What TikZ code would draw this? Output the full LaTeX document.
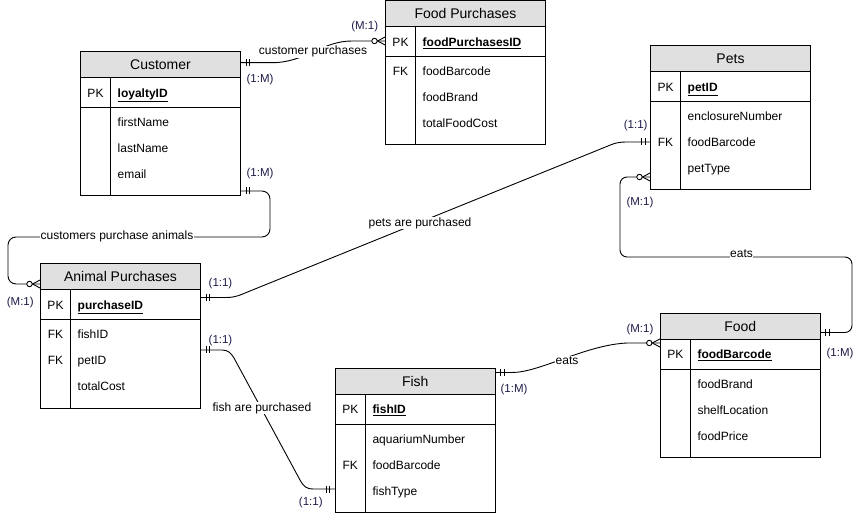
\documentclass[tikz,border=0pt]{standalone}
\usepackage{fontspec}
\setmainfont{Liberation Sans}
\usetikzlibrary{calc}
\definecolor{hdr}{RGB}{224,224,224}
\definecolor{cardc}{RGB}{28,28,72}
\tikzset{
 tline/.style={line width=1pt, draw=black},
 conn/.style={line width=0.9pt, draw=black},
 ttl/.style={font=\fontsize{14}{16}\selectfont, inner sep=0, text height=10pt, text depth=0pt},
 attr/.style={font=\fontsize{12}{14}\selectfont, anchor=west, inner sep=0, text height=8.6pt, text depth=0pt},
 keyt/.style={font=\fontsize{12}{14}\selectfont, inner sep=0, text height=8.6pt, text depth=0pt},
 lbl/.style={font=\fontsize{12}{14}\selectfont, fill=white, inner sep=0.6pt},
 card/.style={font=\fontsize{11.5}{13}\selectfont, text=cardc, inner sep=0},
}
\newcommand\ertable[8]{%
\begin{scope}[shift={(#2,#3)}]
 \node[draw=none, inner sep=0, outer sep=0, minimum width=160pt, minimum height=144pt, anchor=north west] (#1-box) at (0,0) {};
 \fill[hdr] (0,0) rectangle (160,26);
 \draw[tline] (0,0) rectangle (160,144) (0,26) -- (160,26) (0,56) -- (160,56) (30,26) -- (30,144);
 \node[ttl] (#1) at (80,13) {#4};
 \node[keyt] (#1-pkl) at (15,41) {PK};
 \node[attr,font=\fontsize{12}{14}\selectfont\bfseries] (#1-pk) at (37,41) {\underline{#5}};
 \node[attr] (#1-a1) at (37,70.5) {#6};
 \node[attr] (#1-a2) at (37,96.5) {#7};
 \node[attr] (#1-a3) at (37,122.5) {#8};
\end{scope}}
\newcommand\fkat[3]{\node[keyt] (#1) at ($(#2.north west)+(15,#3)$) {FK};}
\newcommand\mandat[2]{\begin{scope}[shift={(#1)},xscale=#2]\draw[conn] (5.5,-3.5)--(5.5,3.5) (9,-3.5)--(9,3.5);\end{scope}}
\newcommand\zmany[2]{\begin{scope}[shift={(#1)},xscale=#2]\draw[conn] (0,-4.2)--(8,0)--(0,4.2);\draw[conn,fill=white] (11,0) circle[radius=2.7];\end{scope}}
\begin{document}
\begin{tikzpicture}[x=1pt,y=-1pt]
\useasboundingbox (0,0) rectangle (863,513);
% tables
\ertable{cust}{80.5}{52}{Customer}{loyaltyID}{firstName}{lastName}{email}
\ertable{fp}{385.5}{1}{Food Purchases}{foodPurchasesID}{foodBarcode}{foodBrand}{totalFoodCost}
\ertable{pets}{650.5}{46}{Pets}{petID}{enclosureNumber}{foodBarcode}{petType}
\ertable{ap}{40.5}{264}{Animal Purchases}{purchaseID}{fishID}{petID}{totalCost}
\ertable{fish}{335.3}{368.3}{Fish}{fishID}{aquariumNumber}{foodBarcode}{fishType}
\ertable{food}{660.3}{313.3}{Food}{foodBarcode}{foodBrand}{shelfLocation}{foodPrice}
\fkat{fp-fk}{fp-box}{70.5}
\fkat{pets-fk}{pets-box}{96.5}
\fkat{ap-fk1}{ap-box}{70.5}
\fkat{ap-fk2}{ap-box}{96.5}
\fkat{fish-fk}{fish-box}{96.5}
% connector ends
\coordinate (c1a) at ($(cust-box.north east)+(0,10.7)$);
\coordinate (c1b) at ($(fp-box.north west)+(0,40)$);
\coordinate (c2a) at ($(cust-box.north east)+(0,139)$);
\coordinate (c2b) at ($(ap-box.north west)+(0,20)$);
\coordinate (c3a) at ($(ap-box.north east)+(0,33.5)$);
\coordinate (c3b) at ($(pets-box.north west)+(0,96)$);
\coordinate (c4a) at ($(ap-box.north east)+(0,86)$);
\coordinate (c4b) at ($(fish-box.north west)+(0,120.7)$);
\coordinate (c5a) at ($(fish-box.north east)+(0,4.2)$);
\coordinate (c5b) at ($(food-box.north west)+(0,29.7)$);
\coordinate (c6a) at ($(food-box.north east)+(0,19.2)$);
\coordinate (c6b) at ($(pets-box.north west)+(0,131)$);
% connectors
\draw[conn] (c1a) -- (272,62.7) .. controls (305,62.7) and (322,41) .. (352,41) -- (c1b);
\draw[conn, rounded corners=8pt] (c2a) -- (270,191) -- (270,237) -- (8,237) -- (8,284) -- (c2b);
\draw[conn] (c3a) -- (226,297.5) .. controls (236,297.5) and (240,295) .. (250,291) -- (608,146) .. controls (615,143) and (618,142) .. (628,142) -- (c3b);
\draw[conn] (c4a) -- (222,350) .. controls (228,350) and (231,353) .. (234,358) -- (300,480) .. controls (304,487) and (307,489) .. (313,489) -- (c4b);
\draw[conn] (c5a) -- (512,372.5) .. controls (540,372.5) and (585,345) .. (627,343) -- (c5b);
\draw[conn, rounded corners=7pt] (c6a) -- (852,332.5) -- (852,257) -- (620,257) -- (620,177) -- (c6b);
% ends
\mandat{c1a}{1} \zmany{c1b}{-1}
\mandat{c2a}{1} \zmany{c2b}{-1}
\mandat{c3a}{1} \mandat{c3b}{-1}
\mandat{c4a}{1} \mandat{c4b}{-1}
\mandat{c5a}{1} \zmany{c5b}{-1}
\mandat{c6a}{1} \zmany{c6b}{-1}
% labels
\node[lbl] (l1) at (313,51.7) {customer purchases};
\node[lbl] (l2) at (117,236.5) {customers purchase animals};
\node[lbl] (l3) at (420,223) {pets are purchased};
\node[lbl] (l4) at (262,408) {fish are purchased};
\node[lbl] (l5) at (567,360.5) {eats};
\node[lbl] (l6) at (741.5,254) {eats};
% cardinalities
\node[card] (k1) at (260,80) {(1:M)};
\node[card] (k2) at (364.7,26.5) {(M:1)};
\node[card] (k3) at (260,173.5) {(1:M)};
\node[card] (k4) at (20.3,302.5) {(M:1)};
\node[card] (k5) at (220.5,284) {(1:1)};
\node[card] (k6) at (635.7,126) {(1:1)};
\node[card] (k7) at (640,202.7) {(M:1)};
\node[card] (k8) at (220.5,340.5) {(1:1)};
\node[card] (k9) at (310.8,503) {(1:1)};
\node[card] (k10) at (514,390) {(1:M)};
\node[card] (k11) at (640,330) {(M:1)};
\node[card] (k12) at (840,354) {(1:M)};
\end{tikzpicture}
\end{document}
